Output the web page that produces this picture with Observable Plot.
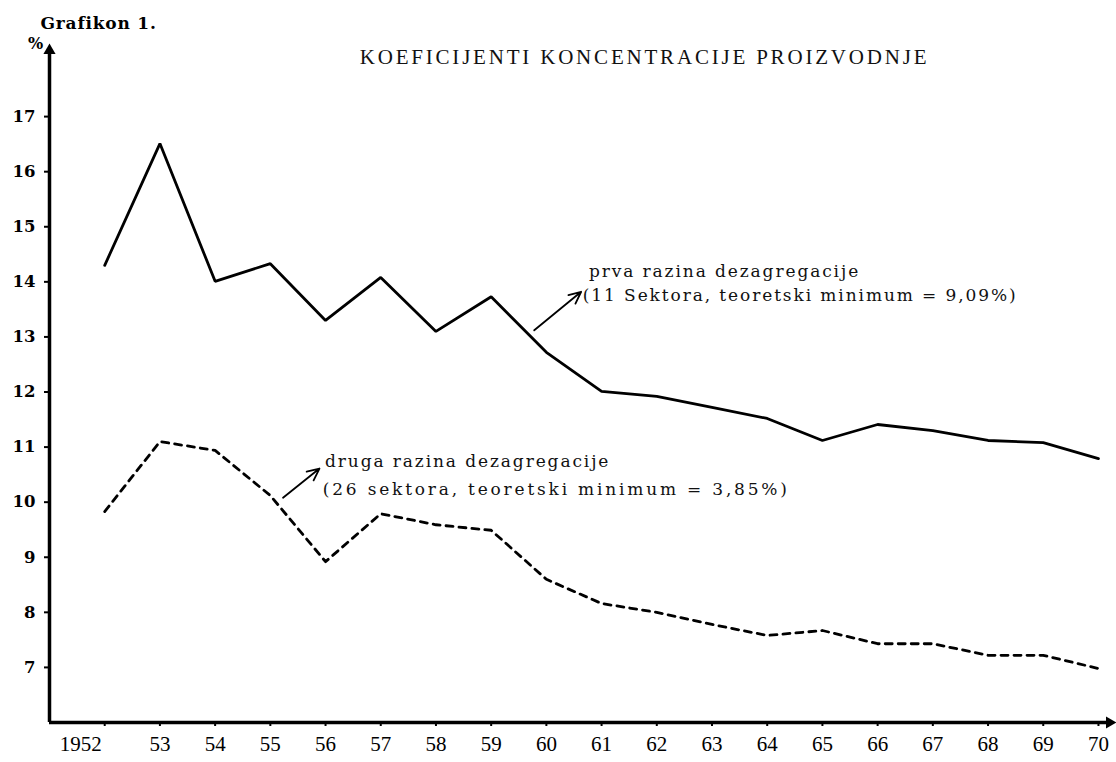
<!DOCTYPE html>
<html><head><meta charset="utf-8">
<script src="https://cdn.jsdelivr.net/npm/d3@7"></script>
<script src="https://cdn.jsdelivr.net/npm/@observablehq/plot@0.6"></script>
<style>body{margin:0;background:#fff}</style>
</head><body><div id="chart"></div>
<script>
const years = [1952,1953,1954,1955,1956,1957,1958,1959,1960,1961,1962,1963,1964,1965,1966,1967,1968,1969,1970];
const xTickLabels = ["1952","53","54","55","56","57","58","59","60","61","62","63","64","65","66","67","68","69","70"];
const prvaRazina = [14.30,16.51,14.01,14.33,13.30,14.08,13.10,13.73,12.72,12.01,11.92,11.72,11.52,11.12,11.41,11.30,11.12,11.08,10.79];
const drugaRazina = [9.83,11.10,10.94,10.12,8.92,9.79,9.59,9.49,8.60,8.16,8.00,7.78,7.58,7.67,7.43,7.43,7.22,7.22,6.98];
const yTicks = [7,8,9,10,11,12,13,14,15,16,17];
const titleText = "KOEFICIJENTI KONCENTRACIJE PROIZVODNJE";
const figureLabel = "Grafikon 1.";
const unitLabel = "%";
// annotations: label lines anchored in data coordinates
const prvaLines = ["prva razina dezagregacije", "(11 Sektora, teoretski minimum = 9,09%)"];
const prvaLineX = [1960.77, 1960.66];
const prvaLineY = [14.19, 13.76];
const drugaLines = ["druga razina dezagregacije", "(26 sektora, teoretski minimum = 3,85%)"];
const drugaLineX = [1955.99, 1955.95];
const drugaLineY = [10.74, 10.23];
const arrowStart = [[1959.78, 13.12], [1955.23, 10.08]];
const arrowEnd = [[1960.63, 13.82], [1955.89, 10.61]];

const rows = years.map((year, i) => ({year, prva: prvaRazina[i], druga: drugaRazina[i], label: xTickLabels[i]}));
const annRows = [
  ...prvaLines.map((t, i) => ({text: t, x: prvaLineX[i], y: prvaLineY[i]})),
  ...drugaLines.map((t, i) => ({text: t, x: drugaLineX[i], y: drugaLineY[i]}))
];
const arrowRows = arrowStart.map((s, i) => ({x1: s[0], y1: s[1], x2: arrowEnd[i][0], y2: arrowEnd[i][1]}));

const xMin = 1951, xMax = 1970.2, yMin = 6, yMax = 18.2;
const annFont = "'DejaVu Serif', serif";

const chart = Plot.plot({
  width: 1116,
  height: 762,
  marginLeft: 49,
  marginRight: 7,
  marginTop: 50,
  marginBottom: 40,
  x: {domain: [xMin, xMax]},
  y: {domain: [yMin, yMax]},
  style: {background: "#fff", color: "#000"},
  marks: [
    Plot.axisY({ticks: yTicks, tickSize: 5, tickPadding: 9, tickFormat: d => String(d), label: null,
      fontSize: 16.5, fontWeight: "bold", fontFamily: "'DejaVu Serif', serif", strokeWidth: 2}),
    Plot.axisX({ticks: years, tickSize: 4, tickFormat: () => "", label: null, strokeWidth: 2}),
    Plot.text(rows.slice(1), {x: "year", text: "label", frameAnchor: "bottom", dy: 22, lineAnchor: "middle",
      fontSize: 21, fontFamily: "'Liberation Serif', serif"}),
    Plot.text(rows.slice(0, 1), {x: "year", text: "label", frameAnchor: "bottom", dy: 22, dx: -24, lineAnchor: "middle",
      fontSize: 21, fontFamily: "'Liberation Serif', serif"}),
    Plot.ruleY([yMin], {stroke: "#000", strokeWidth: 3.5}),
    Plot.ruleX([xMin], {stroke: "#000", strokeWidth: 3.5}),
    Plot.dot([{x: xMin, y: yMax}], {x: "x", y: "y", symbol: "triangle", r: 4.5, fill: "#000", stroke: "none"}),
    Plot.dot([{x: xMax, y: yMin}], {x: "x", y: "y", symbol: "triangle", r: 4.5, rotate: 90, fill: "#000", stroke: "none"}),
    Plot.line(rows, {x: "year", y: "prva", stroke: "#000", strokeWidth: 2.8, strokeLinejoin: "miter"}),
    Plot.line(rows, {x: "year", y: "druga", stroke: "#000", strokeWidth: 2.8, strokeDasharray: "7,6"}),
    Plot.arrow(arrowRows, {x1: "x1", y1: "y1", x2: "x2", y2: "y2", stroke: "#000", strokeWidth: 1.8, headLength: 11, headAngle: 50}),
    Plot.text(annRows, {x: "x", y: "y", text: "text", textAnchor: "start", lineAnchor: "middle",
      fontSize: 17, fontFamily: annFont, fill: "#111"}),
    Plot.text([titleText], {frameAnchor: "top", dx: 65, dy: 7, lineAnchor: "middle",
      fontSize: 21, fontFamily: "'Liberation Serif', serif", fill: "#111"}),
    Plot.text([figureLabel], {frameAnchor: "top-left", dx: -9, dy: -27, textAnchor: "start", lineAnchor: "middle",
      fontSize: 17, fontWeight: "bold", fontFamily: "'DejaVu Serif', serif"}),
    Plot.text([unitLabel], {frameAnchor: "top-left", dx: -14, dy: -7, textAnchor: "middle", lineAnchor: "middle",
      fontSize: 16, fontWeight: "bold", fontFamily: "'DejaVu Serif', serif"})
  ]
});
// letter spacing tweaks for title and annotations
const annSet = new Set([...prvaLines, ...drugaLines]);
chart.querySelectorAll("text").forEach(t => {
  if (t.textContent === titleText) t.setAttribute("letter-spacing", "2.8");
  if (annSet.has(t.textContent)) t.setAttribute("letter-spacing", "1.9");
  if (t.textContent === drugaLines[1]) t.setAttribute("letter-spacing", "2.8");
  if (t.textContent === figureLabel) t.setAttribute("letter-spacing", "0.8");
});
document.getElementById("chart").append(chart);
</script>
</body></html>
